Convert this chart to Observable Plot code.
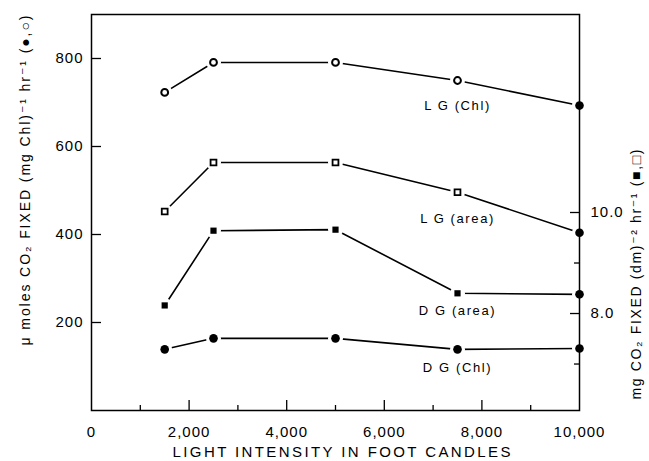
<!DOCTYPE html>
<html><head><meta charset="utf-8">
<script src="https://cdn.jsdelivr.net/npm/d3@7"></script>
<script src="https://cdn.jsdelivr.net/npm/@observablehq/plot@0.6"></script>
<style>
body{margin:0;background:#fff}
#chart svg{font-family:"Liberation Sans","DejaVu Sans",sans-serif;background:#fff}
</style></head><body><div id="chart"></div>
<script>
// ---- data ----
const intensity = [1500, 2500, 5000, 7500, 10000];
const lgChl  = [723, 791, 791, 750, 693];          // left axis, open circles
const dgChl  = [139, 164, 164, 139, 141];          // left axis, filled circles
const lgArea = [10.02, 10.99, 10.99, 10.40, 9.60]; // right axis, open squares
const dgArea = [8.16, 9.64, 9.66, 8.40, 8.38];     // right axis, filled squares
const seriesNames = ["L G (Chl)", "L G (area)", "D G (area)", "D G (Chl)"];
const xTickLabels = [0, 2000, 4000, 6000, 8000, 10000];
const xTicksMajor = [2000, 4000, 6000, 8000];
const xTicksMinor = [1000, 3000, 5000, 7000, 9000];
const yLeftTicks = [200, 400, 600, 800];
const yRightTicksMajor = [8, 10];
const yRightTicksMinor = [7, 9];
const xDomain = [0, 10000];
const yLeftDomain = [0, 900];
const yRightDomain = [6.08, 13.92];
const xTitle = "LIGHT INTENSITY IN FOOT CANDLES";
const yLeftTitle = "μ moles CO₂ FIXED (mg Chl)⁻¹ hr⁻¹ (●,○)";
const yRightTitle = "mg CO₂ FIXED (dm)⁻² hr⁻¹ (■,□)";

// map right-axis units onto the left-axis scale
const toLeft = v => yLeftDomain[0] + (v - yRightDomain[0]) / (yRightDomain[1] - yRightDomain[0]) * (yLeftDomain[1] - yLeftDomain[0]);
const fromLeft = l => yRightDomain[0] + (l - yLeftDomain[0]) / (yLeftDomain[1] - yLeftDomain[0]) * (yRightDomain[1] - yRightDomain[0]);

const series = [
  {name: seriesNames[0], values: lgChl, axis: "left", marker: "openCircle"},
  {name: seriesNames[1], values: lgArea, axis: "right", marker: "openSquare"},
  {name: seriesNames[2], values: dgArea, axis: "right", marker: "filledSquare"},
  {name: seriesNames[3], values: dgChl, axis: "left", marker: "filledCircle"}
];
const rows = series.flatMap(s => s.values.map((v, i) => ({
  series: s.name,
  x: intensity[i],
  y: s.axis === "left" ? v : toLeft(v),
  marker: intensity[i] === xDomain[1] ? "filledCircle" : s.marker
})));
const labelRows = rows.filter(d => d.x === 7500);
const labelDy = {"L G (Chl)": 25, "L G (area)": 27, "D G (area)": 18, "D G (Chl)": 18};

const plot = Plot.plot({
  width: 649, height: 461,
  marginLeft: 91, marginRight: 70, marginTop: 14, marginBottom: 51,
  x: {domain: xDomain, axis: null},
  y: {domain: yLeftDomain, axis: null},
  style: {fontSize: "15px", color: "black", background: "white"},
  marks: [
    Plot.line(rows, {x: "x", y: "y", z: "series", stroke: "black", strokeWidth: 1.6}),
    Plot.dot(rows, {x: "x", y: "y", r: 7.5, fill: "white"}),
    Plot.frame({stroke: "black", strokeWidth: 1.5}),
    Plot.dot(rows.filter(d => d.marker === "openCircle"), {x: "x", y: "y", r: 3.4, fill: "white", stroke: "black", strokeWidth: 2}),
    Plot.dot(rows.filter(d => d.marker === "filledCircle"), {x: "x", y: "y", r: 4.3, fill: "black"}),
    Plot.dot(rows.filter(d => d.marker === "openSquare"), {x: "x", y: "y", symbol: "square", r: 3.3, fill: "white", stroke: "black", strokeWidth: 1.8}),
    Plot.dot(rows.filter(d => d.marker === "filledSquare"), {x: "x", y: "y", symbol: "square", r: 3.5, fill: "black"}),
    // series labels
    ...seriesNames.map(n => Plot.text(labelRows.filter(d => d.series === n), {
      x: "x", y: "y", text: "series", dy: labelDy[n], fontSize: 13, fill: "black"
    })),
    // x axis: labels + inward ticks
    Plot.axisX(xTickLabels, {tickSize: 0, tickPadding: 16, tickFormat: d3.format(","), label: null, fontSize: 15}),
    Plot.axisX(xTicksMajor, {tickSize: -10, fill: "none", label: null, strokeWidth: 1.3}),
    Plot.axisX(xTicksMinor, {tickSize: -5, fill: "none", label: null, strokeWidth: 1.3}),
    // left y axis
    Plot.axisY(yLeftTicks, {anchor: "left", tickSize: 0, tickPadding: 8, label: null, fontSize: 15}),
    Plot.axisY(yLeftTicks, {anchor: "left", tickSize: -10, fill: "none", label: null, strokeWidth: 1.3}),
    // right y axis (mg CO2 per dm2 per hr)
    Plot.axisY(yRightTicksMajor.map(toLeft), {anchor: "right", tickSize: 0, tickPadding: 11, label: null, fontSize: 15, tickFormat: l => d3.format(".1f")(fromLeft(l))}),
    Plot.axisY(yRightTicksMajor.map(toLeft), {anchor: "right", tickSize: -10, fill: "none", label: null, strokeWidth: 1.3}),
    Plot.axisY(yRightTicksMinor.map(toLeft), {anchor: "right", tickSize: -6, fill: "none", label: null, strokeWidth: 1.3}),
    // axis titles
    Plot.text([xTitle], {frameAnchor: "bottom", textAnchor: "middle", lineAnchor: "middle", dx: 6, dy: 42, text: d => d, fontSize: 15, fill: "black"}),
    Plot.text([yLeftTitle], {frameAnchor: "left", textAnchor: "middle", lineAnchor: "middle", dx: -66, dy: -32, rotate: -90, text: d => d, fontSize: 14, fill: "black"}),
    Plot.text([yRightTitle], {frameAnchor: "right", textAnchor: "middle", lineAnchor: "middle", dx: 57, dy: 62, rotate: -90, text: d => d, fontSize: 14, fill: "black"})
  ]
});
document.getElementById("chart").append(plot);
const svg = d3.select(plot);
const texts = svg.selectAll("text");
function stretch(content, len) {
  texts.filter(function () { return this.textContent === content; })
    .attr("textLength", len).attr("lengthAdjust", "spacing");
}
stretch(xTitle, 338);
stretch(yLeftTitle, 330);
stretch(yRightTitle, 250);
texts.filter(function () { return seriesNames.includes(this.textContent); })
  .style("letter-spacing", "1.6px");
texts.filter(function () { return /^[\d,.]+$/.test(this.textContent); })
  .style("letter-spacing", "1px");
</script></body></html>
